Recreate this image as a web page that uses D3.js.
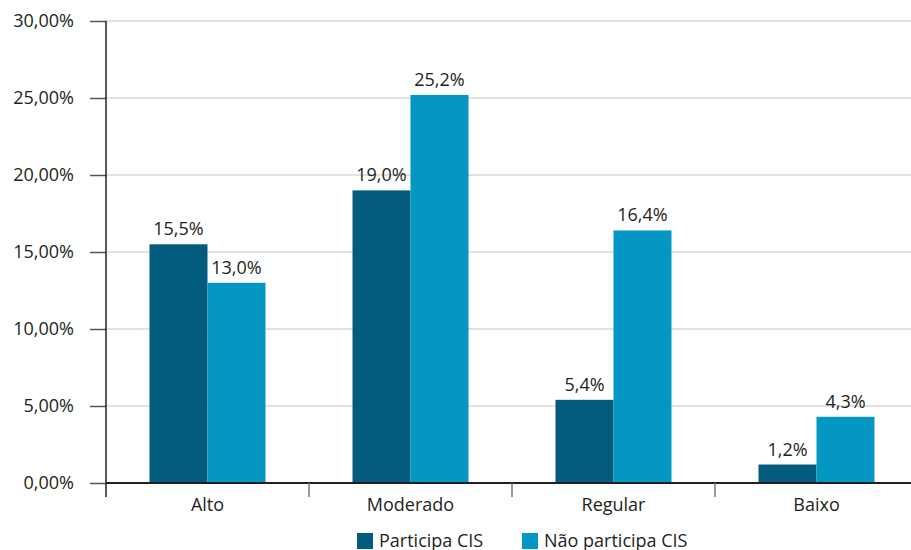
<!DOCTYPE html>
<html lang="pt">
<head>
<meta charset="UTF-8">
<title>Participa CIS</title>
<script src="https://cdn.jsdelivr.net/npm/d3@7"></script>
<style>
    body { margin: 0; background: #fff; }
    svg { display: block; font-family: "Open Sans", "Noto Sans", sans-serif; }
</style>
</head>
<body>
<svg width="911" height="550"></svg>
<script>
    // dados
    var categories = ['Alto', 'Moderado', 'Regular', 'Baixo'];
    var series = ['Participa CIS', 'Não participa CIS'];
    var participa = [15.5, 19.0, 5.4, 1.2];
    var naoParticipa = [13.0, 25.2, 16.4, 4.3];
    var yTicks = [0, 5, 10, 15, 20, 25, 30];
    var colors = ['#035b7e', '#0497c4'];

    (function () {
        var svg = d3.select('svg');
        var fs = 18;
        var mLeft = 106, mRight = 918, mTop = 21, mBottom = 483;

        var x = d3.scaleBand().domain(categories).range([mLeft, mRight]).paddingInner(0).paddingOuter(0);
        var xs = d3.scaleBand().domain(series).range([0, x.bandwidth()]).paddingInner(0).paddingOuter(0.75);
        var y = d3.scaleLinear().domain([0, 30]).range([mBottom, mTop]);

        var fmtTick = function (d) { return d.toFixed(2).replace('.', ',') + '%'; };
        var fmtVal = function (d) { return d.toFixed(1).replace('.', ',') + '%'; };

        // grade
        svg.append('g').selectAll('line').data(yTicks.filter(function (d) { return d > 0; }))
            .enter().append('line')
            .attr('x1', mLeft).attr('x2', 911)
            .attr('y1', function (d) { return y(d); }).attr('y2', function (d) { return y(d); })
            .attr('stroke', '#d9d9d9').attr('stroke-width', 1.5);

        // eixo y
        var yAxis = svg.append('g').attr('transform', 'translate(' + mLeft + ',0)')
            .call(d3.axisLeft(y).tickValues(yTicks).tickFormat(fmtTick).tickSize(16).tickPadding(16));
        yAxis.select('.domain').remove();
        yAxis.selectAll('.tick line').attr('stroke', '#555').attr('stroke-width', 1.5);
        yAxis.selectAll('text').attr('font-size', fs).attr('fill', '#231f20')
            .attr('font-family', '"Open Sans", sans-serif');
        svg.append('line').attr('x1', mLeft).attr('x2', mLeft).attr('y1', mTop).attr('y2', mBottom + 14)
            .attr('stroke', '#231f20').attr('stroke-width', 1.5);

        // barras
        var groups = svg.append('g').selectAll('g').data(categories).enter().append('g')
            .attr('transform', function (d) { return 'translate(' + x(d) + ',0)'; });

        var rows = categories.map(function (c, i) {
            return [{ s: series[0], v: participa[i] }, { s: series[1], v: naoParticipa[i] }];
        });

        groups.selectAll('rect').data(function (d, i) { return rows[i]; }).enter().append('rect')
            .attr('x', function (d) { return xs(d.s); })
            .attr('width', xs.bandwidth())
            .attr('y', function (d) { return y(d.v); })
            .attr('height', function (d) { return mBottom - y(d.v); })
            .attr('fill', function (d, j) { return colors[j]; });

        groups.selectAll('text').data(function (d, i) { return rows[i]; }).enter().append('text')
            .attr('x', function (d) { return xs(d.s) + xs.bandwidth() / 2; })
            .attr('y', function (d) { return y(d.v) - 9; })
            .attr('text-anchor', 'middle').attr('font-size', fs).attr('fill', '#231f20')
            .text(function (d) { return fmtVal(d.v); });

        // eixo x
        svg.append('line').attr('x1', mLeft).attr('x2', 911).attr('y1', mBottom).attr('y2', mBottom)
            .attr('stroke', '#231f20').attr('stroke-width', 2);
        svg.append('g').selectAll('line').data(categories.slice(1)).enter().append('line')
            .attr('x1', function (d) { return x(d); }).attr('x2', function (d) { return x(d); })
            .attr('y1', mBottom).attr('y2', mBottom + 14)
            .attr('stroke', '#777').attr('stroke-width', 1.5);
        svg.append('g').selectAll('text').data(categories).enter().append('text')
            .attr('x', function (d) { return x(d) + x.bandwidth() / 2; })
            .attr('y', mBottom + 28)
            .attr('text-anchor', 'middle').attr('font-size', fs).attr('fill', '#231f20')
            .text(function (d) { return d; });

        // legenda
        var legendX = [357, 522];
        var legend = svg.append('g').selectAll('g').data(series).enter().append('g')
            .attr('transform', function (d, i) { return 'translate(' + legendX[i] + ',533)'; });
        legend.append('rect').attr('width', 16).attr('height', 16)
            .attr('fill', function (d, i) { return colors[i]; });
        legend.append('text').attr('x', 22).attr('y', 14)
            .attr('font-size', fs).attr('fill', '#231f20')
            .text(function (d) { return d; });
    })();
</script>
</body>
</html>
